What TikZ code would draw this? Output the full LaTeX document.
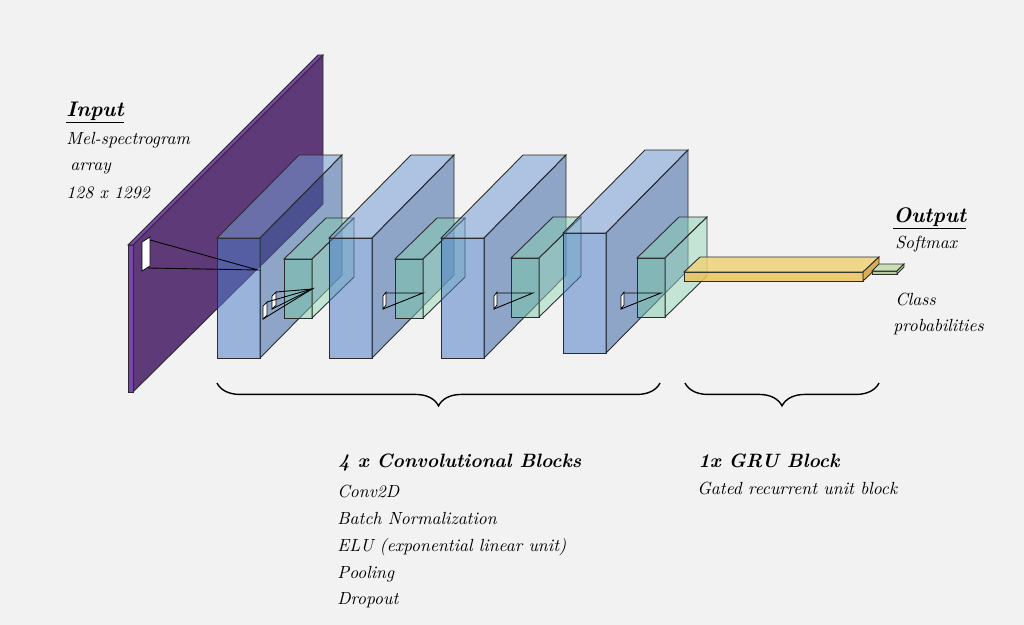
\documentclass[tikz,border=0pt]{standalone}
\usepackage{tikz}
\usetikzlibrary{decorations.pathreplacing}

\definecolor{bgcol}{HTML}{F2F2F2}
\definecolor{edgecol}{HTML}{2B2B2B}
\definecolor{melfront}{HTML}{5E3A78}
\definecolor{meledge}{HTML}{7B45AE}
\definecolor{convfront}{HTML}{507EC8}
\definecolor{convtop}{HTML}{759CD5}
\definecolor{convside}{HTML}{3B64A5}
\definecolor{poolfront}{HTML}{79C7A8}
\definecolor{pooltop}{HTML}{86CDB0}
\definecolor{poolside}{HTML}{98DABA}
\definecolor{grufront}{HTML}{ECC35A}
\definecolor{grutop}{HTML}{EED37A}
\definecolor{gruside}{HTML}{D4A43A}
\definecolor{outfront}{HTML}{B5CF9C}
\definecolor{outtop}{HTML}{C8DEB4}

% front, top and right side of a box
% #1,#2 front top-left, #3 width, #4 height, #5,#6 depth, #7-#9 colours
\newcommand{\cuboid}[9]{%
  \filldraw[face, fill=#7] (#1,#2) rectangle ({#1+#3},{#2+#4});
  \filldraw[face, fill=#8] (#1,#2) -- ({#1+#5},{#2-#6}) -- ({#1+#3+#5},{#2-#6}) -- ({#1+#3},#2) -- cycle;
  \filldraw[face, fill=#9] ({#1+#3},#2) -- ({#1+#3+#5},{#2-#6}) -- ({#1+#3+#5},{#2+#4-#6}) -- ({#1+#3},{#2+#4}) -- cycle;
}

\begin{document}
\begin{tikzpicture}[x=0.02cm, y=-0.02cm,
    face/.style={draw=edgecol, line width=0.5pt},
    link/.style={black, line width=0.5pt},
    winbox/.style={fill=white, draw=black, line width=0.4pt},
    txt/.style={anchor=base west, inner sep=0pt, font=\itshape},
    headtxt/.style={anchor=base west, inner sep=0pt, font=\fontsize{12}{14}\selectfont\bfseries\itshape},
    blocktxt/.style={anchor=base west, inner sep=0pt, font=\fontsize{11}{13}\selectfont\bfseries\itshape}]

    \useasboundingbox (0,0) rectangle (1024,625);
    \fill[bgcol] (0,0) rectangle (1024,625);

    % Input spectrogram slab
    \filldraw[face, fill=melfront] (133,245) -- (323,55) -- (323,204) -- (133,392) -- cycle;
    \filldraw[face, fill=meledge] (128,245) -- (133,245) -- (133,392) -- (128,392) -- cycle;
    \filldraw[face, fill=meledge] (128,245) -- (318,55) -- (323,55) -- (133,245) -- cycle;
    \filldraw[winbox] (142,242) -- (150,237) -- (150,266) -- (142,271) -- cycle;
    \coordinate (in1) at (150,240);
    \coordinate (in2) at (148,268);
    \coordinate (c1) at (258,270);

    % Convolutional blocks
    \foreach \bx/\by/\gx/\gy in {217/238/284/259, 329/238/395/259, 441/238/511/258, 563/233/637/258} {
        \begin{scope}[fill opacity=0.54]
            \cuboid{\bx}{\by}{43}{120}{82}{83}{convfront}{convtop}{convside}
        \end{scope}
        \begin{scope}[fill opacity=0.5]
            \cuboid{\gx}{\gy}{28}{59}{42}{41}{poolfront}{pooltop}{poolside}
        \end{scope}
    }
    \draw[link] (in1) -- (c1) -- (in2);

    % Kernel windows
    \filldraw[winbox] (263,306) -- (267,302) -- (267,315) -- (263,319) -- cycle;
    \filldraw[winbox] (272,296) -- (276,292) -- (276,305) -- (272,309) -- cycle;
    \filldraw[winbox] (383,296) -- (386,292) -- (386,305) -- (383,309) -- cycle;
    \filldraw[winbox] (494,296) -- (497,292) -- (497,305) -- (494,309) -- cycle;
    \filldraw[winbox] (621,296) -- (624,292) -- (624,305) -- (621,309) -- cycle;
    \coordinate (k1a) at (267,302);
    \coordinate (k1b) at (263,319);
    \coordinate (k1c) at (276,292);
    \coordinate (k1d) at (272,309);
    \coordinate (p1) at (312,289);
    \coordinate (k2a) at (386,293);
    \coordinate (k2b) at (383,309);
    \coordinate (p2) at (423,293);
    \coordinate (k3a) at (497,293);
    \coordinate (k3b) at (494,309);
    \coordinate (p3) at (533,293);
    \coordinate (k4a) at (624,293);
    \coordinate (k4b) at (621,309);
    \coordinate (p4) at (661,293);
    \draw[link] (k1a) -- (p1) -- (k1b);
    \draw[link] (k1c) -- (p1) -- (k1d);
    \draw[link] (k2a) -- (p2) -- (k2b);
    \draw[link] (k3a) -- (p3) -- (k3b);
    \draw[link] (k4a) -- (p4) -- (k4b);

    % GRU bar and output
    \begin{scope}[fill opacity=0.85]
        \cuboid{684}{272}{179}{9}{16}{15}{grufront}{grutop}{gruside}
    \end{scope}
    \cuboid{872}{271}{25}{3}{7}{7}{outfront}{outtop}{outfront}

    % Braces
    \coordinate (convL) at (217,383);
    \coordinate (convR) at (660,383);
    \coordinate (gruL) at (685,383);
    \coordinate (gruR) at (879,383);
    \draw[line width=0.8pt, decorate, decoration={brace, mirror, amplitude=13pt}] (convL) -- (convR);
    \draw[line width=0.8pt, decorate, decoration={brace, mirror, amplitude=13pt}] (gruL) -- (gruR);

    % Labels
    \node[headtxt] (input) at (66,116) {\underline{Input}};
    \node[txt] (melspec) at (66,144) {Mel-spectrogram};
    \node[txt] (array) at (70,171) {array};
    \node[txt] (size) at (66,198) {128 x 1292};

    \node[headtxt] (output) at (893,222) {\underline{Output}};
    \node[txt] (softmax) at (895,248) {Softmax};
    \node[txt] (class) at (895,305) {Class};
    \node[txt] (probs) at (893,331) {probabilities};

    \node[blocktxt] (convhead) at (338,467) {4 x Convolutional Blocks};
    \node[txt] (conv2d) at (337,497) {Conv2D};
    \node[txt] (batchnorm) at (337,524) {Batch Normalization};
    \node[txt] (elu) at (337,551) {ELU (exponential linear unit)};
    \node[txt] (pooling) at (337,578) {Pooling};
    \node[txt] (dropout) at (337,604) {Dropout};

    \node[blocktxt] (gruhead) at (698,467) {1x GRU Block};
    \node[txt] (grutext) at (697,494) {Gated recurrent unit block};
\end{tikzpicture}
\end{document}
